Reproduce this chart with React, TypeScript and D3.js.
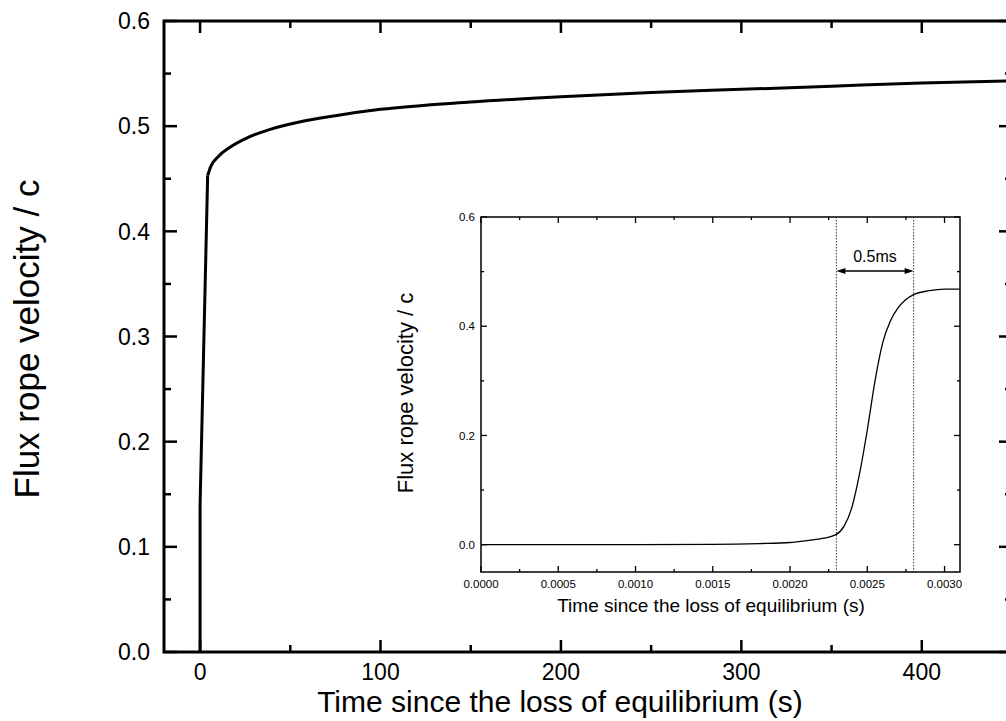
import * as d3 from "d3";

// main curve: flux rope velocity (c) vs time (s)
const mainTime = [0, 0, 4.2, 6, 10, 16.6, 25, 38.8, 55, 75, 100, 150, 200, 250, 300, 350, 400, 450];
const mainVel = [0, 0.14, 0.453, 0.462, 0.471, 0.48, 0.488, 0.497, 0.504, 0.51, 0.516, 0.523, 0.528, 0.532, 0.535, 0.538, 0.541, 0.543];

// inset curve: the first 3 ms
const insetTime = [0, 0.001, 0.0015, 0.0018, 0.002, 0.0021, 0.0022, 0.0023, 0.00235, 0.0024, 0.00245, 0.0025, 0.00255, 0.0026, 0.00265, 0.0027, 0.00275, 0.0028, 0.0029, 0.003, 0.0031];
const insetVel = [0, 0, 0.0005, 0.002, 0.004, 0.007, 0.011, 0.019, 0.034, 0.068, 0.13, 0.21, 0.3, 0.37, 0.41, 0.434, 0.449, 0.458, 0.465, 0.468, 0.468];

const mainXMajor = [0, 100, 200, 300, 400];
const mainXMinor = [50, 150, 250, 350];
const mainYMajor = [0, 0.1, 0.2, 0.3, 0.4, 0.5, 0.6];
const mainYMinor = [0.05, 0.15, 0.25, 0.35, 0.45, 0.55];

const insetXMajor = [0, 0.0005, 0.001, 0.0015, 0.002, 0.0025, 0.003];
const insetXMinor = [0.00025, 0.00075, 0.00125, 0.00175, 0.00225, 0.00275];
const insetYMajor = [0, 0.2, 0.4, 0.6];
const insetYMinor = [0.1, 0.3, 0.5];

// the 0.5 ms window marked in the inset
const markers = [0.0023, 0.0028];

const FONT = "Liberation Sans, Arial, sans-serif";

export default function App() {
  // main axes
  const x = d3.scaleLinear().domain([-20, 450]).range([164, 1012]);
  const y = d3.scaleLinear().domain([0, 0.6]).range([652, 21]);
  const [x0, x1] = x.range();
  const [y0, y1] = y.range();

  // inset axes
  const ix = d3.scaleLinear().domain([0, 0.0031]).range([481, 960]);
  const iy = d3.scaleLinear().domain([-0.05, 0.6]).range([572, 217]);
  const [ix0, ix1] = ix.range();
  const [iy0, iy1] = iy.range();

  const pts = mainTime.map((t, i) => [t, mainVel[i]] as [number, number]);
  // sharp jump at t=0 is straight, the slow rise after it is smooth
  const jump = d3
    .line<[number, number]>()
    .x((d) => x(d[0]))
    .y((d) => y(d[1]));
  const rise = d3
    .line<[number, number]>()
    .x((d) => x(d[0]))
    .y((d) => y(d[1]))
    .curve(d3.curveMonotoneX);

  const insetLine = d3
    .line<number>()
    .x((_, i) => ix(insetTime[i]))
    .y((d) => iy(d))
    .curve(d3.curveMonotoneX);

  const fmt1 = d3.format(".1f");
  const fmt4 = d3.format(".4f");

  const mx0 = ix(markers[0]);
  const mx1 = ix(markers[1]);
  const ay = 271;

  return (
    <svg
      width={1006}
      height={721}
      style={{ position: "absolute", left: 0, top: 0, background: "#fff" }}
      fontFamily={FONT}
    >
      <defs>
        <clipPath id="mainClip">
          <rect x={x0} y={y1} width={x1 - x0} height={y0 - y1} />
        </clipPath>
      </defs>

      {/* main frame ticks */}
      <g stroke="#000" strokeWidth={2.5}>
        {mainXMajor.map((v) => (
          <g key={"xM" + v}>
            <line x1={x(v)} x2={x(v)} y1={y0} y2={y0 - 12} />
            <line x1={x(v)} x2={x(v)} y1={y1} y2={y1 + 12} />
          </g>
        ))}
        {mainXMinor.map((v) => (
          <g key={"xm" + v}>
            <line x1={x(v)} x2={x(v)} y1={y0} y2={y0 - 7} />
            <line x1={x(v)} x2={x(v)} y1={y1} y2={y1 + 7} />
          </g>
        ))}
        {mainYMajor.map((v) => (
          <g key={"yM" + v}>
            <line x1={x0} x2={x0 + 13} y1={y(v)} y2={y(v)} />
            <line x1={x1} x2={x1 - 13} y1={y(v)} y2={y(v)} />
          </g>
        ))}
        {mainYMinor.map((v) => (
          <g key={"ym" + v}>
            <line x1={x0} x2={x0 + 7} y1={y(v)} y2={y(v)} />
            <line x1={x1} x2={x1 - 7} y1={y(v)} y2={y(v)} />
          </g>
        ))}
      </g>
      <rect x={x0} y={y1} width={x1 - x0} height={y0 - y1} fill="none" stroke="#000" strokeWidth={3} />

      <g fill="none" stroke="#000" strokeWidth={3} strokeLinejoin="round" clipPath="url(#mainClip)">
        <path d={jump(pts.slice(0, 3)) ?? ""} />
        <path d={rise(pts.slice(2)) ?? ""} />
      </g>

      {/* main tick labels */}
      <g fontSize={23} fill="#000">
        {mainYMajor.map((v) => (
          <text key={"yl" + v} x={150} y={y(v)} dy="0.36em" textAnchor="end">
            {fmt1(v)}
          </text>
        ))}
        {mainXMajor.map((v) => (
          <text key={"xl" + v} x={x(v)} y={680} textAnchor="middle">
            {v}
          </text>
        ))}
      </g>
      <text x={560} y={712} fontSize={30} textAnchor="middle">
        Time since the loss of equilibrium (s)
      </text>
      <text transform="translate(39,339) rotate(-90)" fontSize={35} textAnchor="middle">
        Flux rope velocity / c
      </text>

      {/* inset */}
      <rect x={ix0} y={iy1} width={ix1 - ix0} height={iy0 - iy1} fill="#fff" />
      <g stroke="#000" strokeWidth={1.3}>
        {insetXMajor.map((v) => (
          <g key={"ixM" + v}>
            <line x1={ix(v)} x2={ix(v)} y1={iy0} y2={iy0 - 6} />
            <line x1={ix(v)} x2={ix(v)} y1={iy1} y2={iy1 + 6} />
          </g>
        ))}
        {insetXMinor.map((v) => (
          <g key={"ixm" + v}>
            <line x1={ix(v)} x2={ix(v)} y1={iy0} y2={iy0 - 3} />
            <line x1={ix(v)} x2={ix(v)} y1={iy1} y2={iy1 + 3} />
          </g>
        ))}
        {insetYMajor.map((v) => (
          <g key={"iyM" + v}>
            <line x1={ix0} x2={ix0 + 6} y1={iy(v)} y2={iy(v)} />
            <line x1={ix1} x2={ix1 - 6} y1={iy(v)} y2={iy(v)} />
          </g>
        ))}
        {insetYMinor.map((v) => (
          <g key={"iym" + v}>
            <line x1={ix0} x2={ix0 + 3} y1={iy(v)} y2={iy(v)} />
            <line x1={ix1} x2={ix1 - 3} y1={iy(v)} y2={iy(v)} />
          </g>
        ))}
      </g>
      <rect x={ix0} y={iy1} width={ix1 - ix0} height={iy0 - iy1} fill="none" stroke="#000" strokeWidth={1.5} />

      {markers.map((m) => (
        <line
          key={"mk" + m}
          x1={ix(m)}
          x2={ix(m)}
          y1={iy1}
          y2={iy0}
          stroke="#222"
          strokeWidth={0.9}
          strokeDasharray="1.5,1.5"
        />
      ))}

      <path d={insetLine(insetVel) ?? ""} fill="none" stroke="#000" strokeWidth={1.3} />

      {/* 0.5 ms arrow */}
      <line x1={mx0 + 6} x2={mx1 - 6} y1={ay} y2={ay} stroke="#000" strokeWidth={1.5} />
      <path d={`M${mx0},${ay}L${mx0 + 9},${ay - 3}L${mx0 + 9},${ay + 3}Z`} fill="#000" />
      <path d={`M${mx1},${ay}L${mx1 - 9},${ay - 3}L${mx1 - 9},${ay + 3}Z`} fill="#000" />
      <text x={(mx0 + mx1) / 2} y={262} fontSize={16} textAnchor="middle">
        0.5ms
      </text>

      <g fontSize={11.5} fill="#000">
        {insetYMajor.map((v) => (
          <text key={"iyl" + v} x={475} y={iy(v)} dy="0.36em" textAnchor="end">
            {fmt1(v)}
          </text>
        ))}
        {insetXMajor.map((v) => (
          <text key={"ixl" + v} x={ix(v)} y={588} textAnchor="middle">
            {fmt4(v)}
          </text>
        ))}
      </g>
      <text x={711} y={612} fontSize={19} textAnchor="middle">
        Time since the loss of equilibrium (s)
      </text>
      <text transform="translate(413,393) rotate(-90)" fontSize={22} textAnchor="middle">
        Flux rope velocity / c
      </text>
    </svg>
  );
}
